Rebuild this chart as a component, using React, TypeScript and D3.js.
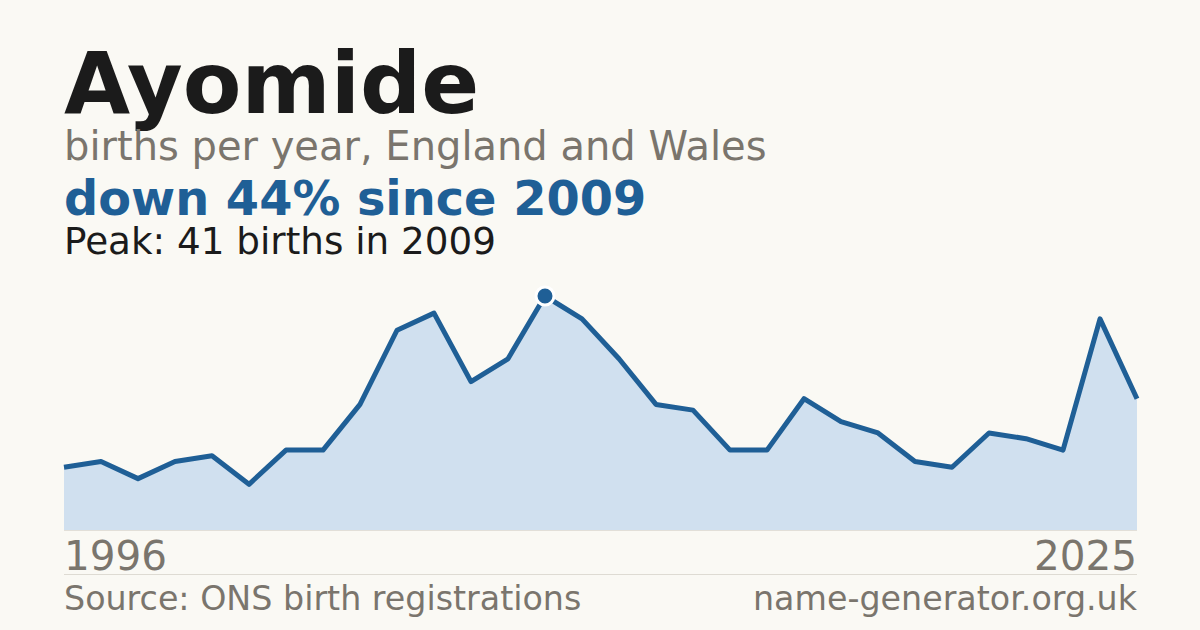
import React from "react";
import * as d3 from "d3";

const years = d3.range(1996, 2026);
const births = [11, 12, 9, 12, 13, 8, 14, 14, 22, 35, 38, 26, 30, 41, 37, 30, 22, 21, 14, 14, 23, 19, 17, 12, 11, 17, 16, 14, 37, 23];

const title = "Ayomide";
const subtitle = "births per year, England and Wales";
const headline = "down 44% since 2009";
const peakNote = "Peak: 41 births in 2009";
const source = "Source: ONS birth registrations";
const site = "name-generator.org.uk";

const W = 1200;
const H = 630;
const left = 64;
const right = 1137;
const font = "'DejaVu Sans', sans-serif";
const blue = "#1f5f96";
const grey = "#7a756d";

const App = () => {
    const data = years.map((y, i) => ({ year: y, value: births[i] }));
    const x = d3.scaleLinear().domain([1996, 2025]).range([left, right]);
    const y = d3.scaleLinear().domain([0, d3.max(births)]).range([530, 296]);

    const area = d3.area<any>()
        .x((d) => x(d.year))
        .y0(y(0))
        .y1((d) => y(d.value));
    const line = d3.line<any>()
        .x((d) => x(d.year))
        .y((d) => y(d.value));

    // highlight the peak year
    const peak = data.reduce((a, b) => (b.value > a.value ? b : a));

    return (
        <svg width={W} height={H} style={{ position: "fixed", top: 0, left: 0 }} fontFamily={font}>
            <rect width={W} height={H} fill="#faf9f4" />
            <text x={left} y={113} fontSize={85.5} fontWeight="bold" fill="#1b1b1b">{title}</text>
            <text x={left} y={160} fontSize={40} fill={grey}>{subtitle}</text>
            <text x={left} y={215} fontSize={47.8} fontWeight="bold" fill={blue}>{headline}</text>
            <text x={left} y={254} fontSize={37.3} fill="#1b1b1b">{peakNote}</text>

            <path d={area(data)} fill="#d0e0ef" />
            <line x1={left} x2={right} y1={y(0) + 0.5} y2={y(0) + 0.5} stroke="#e2dfd8" strokeWidth={1} />
            <path d={line(data)} fill="none" stroke={blue} strokeWidth={5} strokeLinejoin="round" />
            <circle cx={x(peak.year)} cy={y(peak.value)} r={9} fill={blue} stroke="#ffffff" strokeWidth={3} />

            <text x={left} y={570} fontSize={40.5} fill={grey}>{years[0]}</text>
            <text x={right} y={570} fontSize={40.5} fill={grey} textAnchor="end">{years[years.length - 1]}</text>
            <line x1={left} x2={right} y1={574.5} y2={574.5} stroke="#dedbd3" strokeWidth={1} />
            <text x={left} y={610} fontSize={33.3} fill={grey}>{source}</text>
            <text x={right} y={610} fontSize={33.3} fill={grey} textAnchor="end">{site}</text>
        </svg>
    );
};

export default App;
